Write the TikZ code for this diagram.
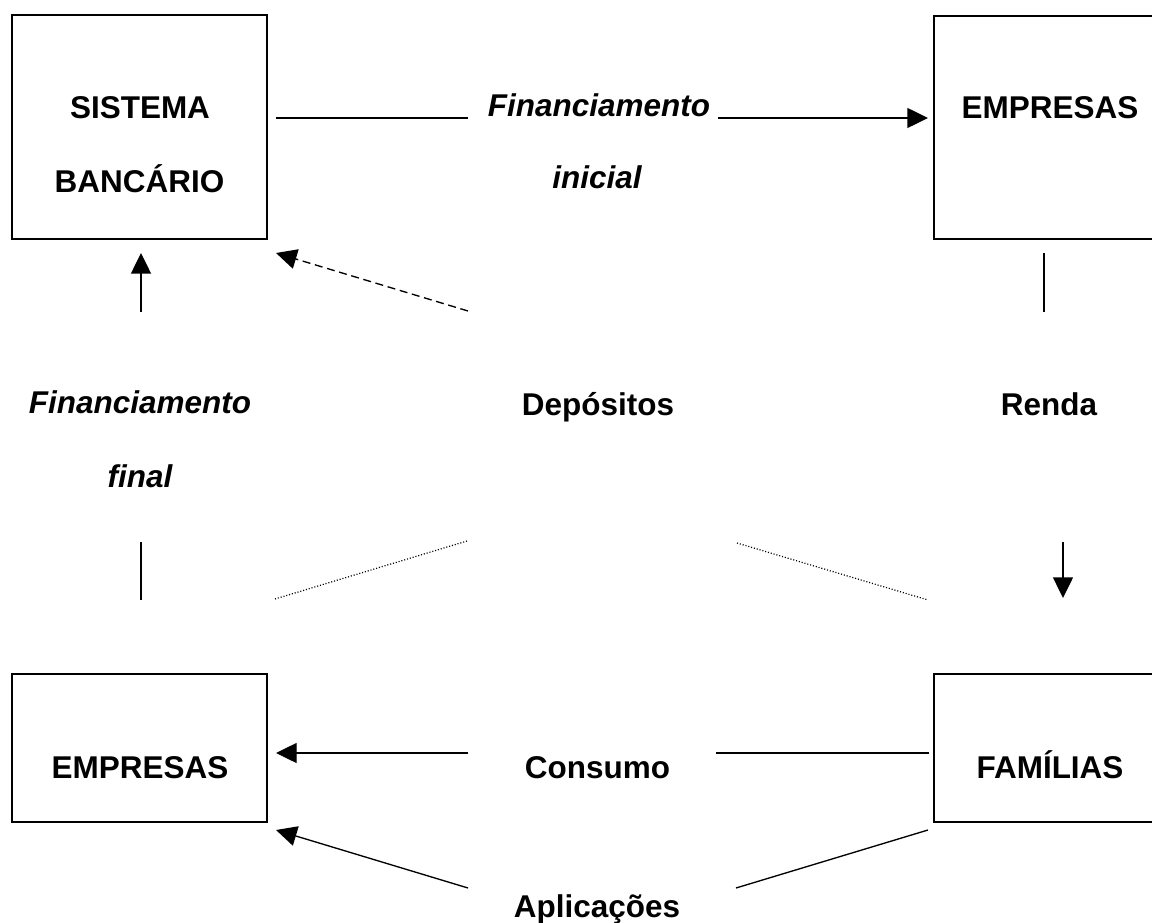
\documentclass[tikz,border=0pt]{standalone}
\usepackage{fontspec}
\setmainfont{Liberation Sans}
\usetikzlibrary{arrows.meta}
\tikzset{
  box/.style={draw, line width=1.5pt, inner sep=0pt, minimum width=#1},
  box/.default={191.25pt},
  lbl/.style={anchor=base, inner sep=0pt, font=\fontsize{23.6}{28}\selectfont\bfseries},
  ilbl/.style={lbl, font=\fontsize{23.6}{28}\selectfont\bfseries\itshape},
  conn/.style={line width=1pt},
  arr/.style={conn, -{Triangle[length=15.5pt, width=15pt]}},
  dash line/.style={conn, dash pattern=on 6pt off 3.5pt},
  dot line/.style={line width=0.9pt, dash pattern=on 0.8pt off 1.4pt},
}
\begin{document}
\begin{tikzpicture}[x=0.75pt, y=-0.75pt]
\useasboundingbox (0,0) rectangle (1152,923);
\clip (0,0) rectangle (1152,923);
% boxes
\node[box, minimum height=168pt] (sb) at (139.5,127) {};
\node[box=174pt, minimum height=167.25pt] (et) at (1050,127.5) {};
\node[box, minimum height=111pt] (eb) at (139.5,748) {};
\node[box=174pt, minimum height=111pt] (fa) at (1050,748) {};
% texts
\node[lbl] (t1) at (140,119) {SISTEMA};
\node[lbl] (t2) at (139.5,193) {BANCÁRIO};
\node[ilbl] (t3) at (599,117) {Financiamento};
\node[ilbl] (t4) at (597,189) {inicial};
\node[lbl] (t5) at (1050,119) {EMPRESAS};
\node[ilbl] (t6) at (140,413) {Financiamento};
\node[ilbl] (t7) at (140,487) {final};
\node[lbl] (t8) at (598,415) {Depósitos};
\node[lbl] (t9) at (1049,415) {Renda};
\node[lbl] (t10) at (140,778) {EMPRESAS};
\node[lbl] (t11) at (597.5,778) {Consumo};
\node[lbl] (t12) at (1050,778) {FAMÍLIAS};
\node[lbl] (t13) at (597,917) {Aplicações};
% connector end points
\coordinate (a1) at (276,118); \coordinate (a2) at (468,118);
\coordinate (b1) at (718,118); \coordinate (b2) at (928,118);
\coordinate (c1) at (468,311); \coordinate (c2) at (276,253);
\coordinate (d1) at (141,312); \coordinate (d2) at (141,253);
\coordinate (e1) at (141,542); \coordinate (e2) at (141,600);
\coordinate (f1) at (1044,253); \coordinate (f2) at (1044,312);
\coordinate (g1) at (1063,542); \coordinate (g2) at (1063,598);
\coordinate (h1) at (275,599); \coordinate (h2) at (467,541);
\coordinate (i1) at (737,543); \coordinate (i2) at (928,600);
\coordinate (j1) at (468,753); \coordinate (j2) at (276,753);
\coordinate (k1) at (716,753); \coordinate (k2) at (929,753);
\coordinate (l1) at (468,888); \coordinate (l2) at (276,830);
\coordinate (m1) at (736,888); \coordinate (m2) at (928,830);
% connectors
\draw[conn] (a1) -- (a2);
\draw[arr] (b1) -- (b2);
\draw[arr, dash line] (c1) -- (c2);
\draw[arr] (d1) -- (d2);
\draw[conn] (e1) -- (e2);
\draw[conn] (f1) -- (f2);
\draw[arr] (g1) -- (g2);
\draw[dot line] (h1) -- (h2);
\draw[dot line] (i1) -- (i2);
\draw[arr] (j1) -- (j2);
\draw[conn] (k1) -- (k2);
\draw[arr] (l1) -- (l2);
\draw[conn] (m1) -- (m2);
\end{tikzpicture}
\end{document}
